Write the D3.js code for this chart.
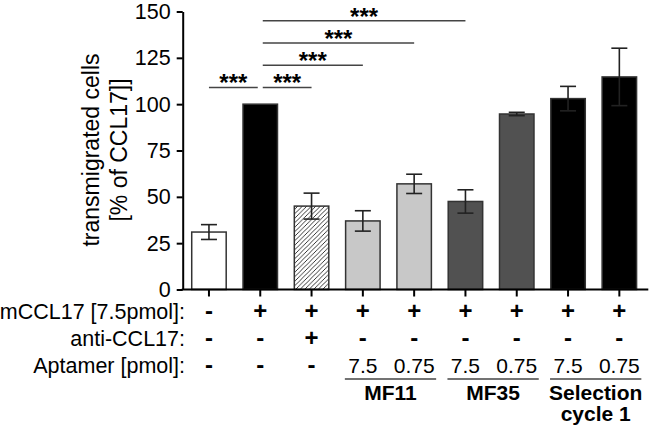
<!DOCTYPE html>
<html>
<head>
<meta charset="utf-8">
<script src="https://cdn.jsdelivr.net/npm/d3@7"></script>
<style>
  html, body { margin: 0; padding: 0; background: #fff; }
  svg { display: block; font-family: "Liberation Sans", Arial, Helvetica, sans-serif; }
</style>
</head>
<body>
<svg id="chart" width="650" height="431"></svg>
<script>
// ---------- data ----------
const categories = ["ctrl", "mCCL17", "anti-CCL17", "MF11 7.5", "MF11 0.75", "MF35 7.5", "MF35 0.75", "SC1 7.5", "SC1 0.75"];
const values = [31, 100, 45, 37, 57, 47.5, 94.7, 103, 114.7];
const errors = [4, 0, 7, 5.5, 5.2, 6.3, 0.9, 6.6, 15.5];
const yTicks = [0, 25, 50, 75, 100, 125, 150];
const yTitle = ["transmigrated cells", "[% of CCL17]]"];
const rowLabels = ["mCCL17 [7.5pmol]:", "anti-CCL17:", "Aptamer [pmol]:"];
const rowMCCL17 = ["-", "+", "+", "+", "+", "+", "+", "+", "+"];
const rowAnti = ["-", "-", "+", "-", "-", "-", "-", "-", "-"];
const rowAptamer = ["-", "-", "-", "7.5", "0.75", "7.5", "0.75", "7.5", "0.75"];
const groupLabels = [["MF11"], ["MF35"], ["Selection", "cycle 1"]];
const groupFrom = [3, 5, 7];
const groupTo = [4, 6, 8];
const compFrom = [0, 1, 1, 1, 1];
const compTo = [1, 2, 3, 4, 5];
const compLevel = [109, 109, 121, 133, 145];
const compLabel = ["***", "***", "***", "***", "***"];

// ---------- styles ----------
const barFills = ["#ffffff", "#000000", "url(#hatch)", "#c8c8c8", "#c8c8c8", "#515151", "#515151", "#000000", "#000000"];

const svg = d3.select("#chart");

const defs = svg.append("defs");
const pat = defs.append("pattern")
  .attr("id", "hatch").attr("patternUnits", "userSpaceOnUse")
  .attr("width", 4.5).attr("height", 4.5);
pat.append("rect").attr("width", 4.5).attr("height", 4.5).attr("fill", "#fff");
pat.append("path").attr("d", "M-1,1 l2,-2 M0,4.5 l4.5,-4.5 M3.5,5.5 l2,-2")
  .attr("stroke", "#222").attr("stroke-width", 0.9);

const xAxisLeft = 182.7, xAxisRight = 648.3;
const x = d3.scaleBand().domain(categories).range([183, 645.3]).paddingInner(0.328).paddingOuter(0.17);
const y = d3.scaleLinear().domain([0, 150]).range([289.5, 11.5]);
const cx = i => x(categories[i]) + x.bandwidth() / 2;

// bars
svg.append("g").selectAll("rect").data(values).join("rect")
  .attr("x", (d, i) => x(categories[i]))
  .attr("y", d => y(d))
  .attr("width", x.bandwidth())
  .attr("height", d => y(0) - y(d))
  .attr("fill", (d, i) => barFills[i])
  .attr("stroke", "#333")
  .attr("stroke-width", 1.5);

// error bars
const eb = svg.append("g").attr("stroke", "#222").attr("stroke-width", 1.6);
values.forEach((v, i) => {
  const e = errors[i];
  if (!e) return;
  const c = cx(i);
  eb.append("line").attr("x1", c).attr("x2", c).attr("y1", y(v + e)).attr("y2", y(v - e));
  eb.append("line").attr("x1", c - 8).attr("x2", c + 8).attr("y1", y(v + e)).attr("y2", y(v + e));
  eb.append("line").attr("x1", c - 8).attr("x2", c + 8).attr("y1", y(v - e)).attr("y2", y(v - e));
});

// y axis
const yAxis = svg.append("g").attr("transform", `translate(${xAxisLeft},0)`)
  .call(d3.axisLeft(y).tickValues(yTicks).tickSize(6).tickSizeOuter(0).tickPadding(6));
yAxis.selectAll("path, line").attr("stroke", "#000").attr("stroke-width", 2);
yAxis.selectAll("text").attr("font-size", 21.5).attr("fill", "#000")
  .attr("font-family", "'Liberation Sans', Arial, sans-serif");

// x axis
const xAxis = svg.append("g").attr("transform", `translate(0,${y(0)})`)
  .call(d3.axisBottom(x).tickSize(7).tickSizeOuter(0).tickFormat(""));
xAxis.select("path.domain").attr("d", `M${xAxisLeft - 1},0H${xAxisRight}`);
xAxis.selectAll("path, line").attr("stroke", "#000").attr("stroke-width", 2);

// y title
const yt = svg.append("text").attr("transform", "translate(0,150) rotate(-90)")
  .attr("text-anchor", "middle").attr("font-size", 23).attr("fill", "#000");
yt.append("tspan").attr("x", 0).attr("y", 99).text(yTitle[0]);
yt.append("tspan").attr("x", 0).attr("y", 127).text(yTitle[1]);

// significance
const sig = svg.append("g");
compFrom.forEach((a, k) => {
  const b = compTo[k];
  const x1 = a === 0 ? cx(a) : cx(a) + 2.5;
  const x2 = b === 1 ? cx(b) - 2.5 : cx(b);
  const ly = y(compLevel[k]);
  sig.append("line").attr("x1", x1).attr("x2", x2).attr("y1", ly).attr("y2", ly)
    .attr("stroke", "#444").attr("stroke-width", 1.6);
  sig.append("text").attr("x", (x1 + x2) / 2).attr("y", ly + 4)
    .attr("text-anchor", "middle").attr("font-size", 24).attr("font-weight", "bold")
    .attr("fill", "#000").text(compLabel[k]);
});

// table rows
const rowY = [318.5, 346, 373];
const rows = [rowMCCL17, rowAnti, rowAptamer];
const tbl = svg.append("g").attr("font-size", 21.5).attr("fill", "#000");
rowLabels.forEach((lab, r) => {
  tbl.append("text").attr("x", 185).attr("y", rowY[r]).attr("text-anchor", "end").text(lab);
  rows[r].forEach((s, i) => {
    const sign = s === "-" || s === "+";
    tbl.append("text").attr("x", cx(i)).attr("y", rowY[r]).attr("text-anchor", "middle")
      .attr("font-size", sign ? 24 : 21)
      .attr("font-weight", sign ? "bold" : "normal")
      .text(s);
  });
});

// groups
const grp = svg.append("g");
groupLabels.forEach((lines, g) => {
  const gx1 = cx(groupFrom[g]) - 18, gx2 = cx(groupTo[g]) + 22;
  grp.append("line").attr("x1", gx1).attr("x2", gx2).attr("y1", 379).attr("y2", 379)
    .attr("stroke", "#444").attr("stroke-width", 1.6);
  lines.forEach((t, j) => {
    grp.append("text").attr("x", (gx1 + gx2) / 2).attr("y", 400 + j * 21)
      .attr("text-anchor", "middle").attr("font-size", 21).attr("font-weight", "bold")
      .attr("fill", "#000").text(t);
  });
});
</script>
</body>
</html>
